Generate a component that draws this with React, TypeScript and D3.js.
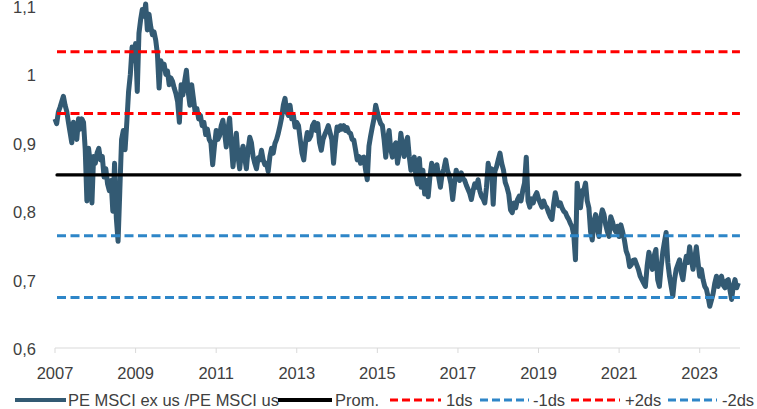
import React, { useEffect, useRef } from 'react'
import * as d3 from 'd3'

// PE MSCI ex US / PE MSCI US, valores quincenales
const pe2007 = [0.935, 0.928, 0.945, 0.952, 0.96, 0.968, 0.955, 0.946, 0.93, 0.915, 0.9, 0.93, 0.915, 0.905, 0.935, 0.92, 0.935, 0.93, 0.89, 0.815, 0.892, 0.87, 0.812, 0.88]
const pe2008 = [0.87, 0.885, 0.892, 0.875, 0.88, 0.85, 0.862, 0.84, 0.83, 0.845, 0.8, 0.87, 0.79, 0.756, 0.83, 0.905, 0.918, 0.89, 0.93, 0.975, 1.0, 1.04, 1.02]
const pe2009 = [1.045, 0.975, 1.06, 1.08, 1.095, 1.085, 1.103, 1.065, 1.088, 1.07, 1.058, 1.062, 1.05, 1.03, 0.98, 1.02, 1.01, 1.015, 1.0, 1.005, 0.985, 0.995, 0.99, 0.98]
const pe2010 = [0.972, 0.96, 0.93, 0.985, 0.97, 0.99, 1.006, 0.975, 0.955, 0.985, 0.965, 0.945, 0.95, 0.935, 0.94, 0.925, 0.93, 0.912, 0.92, 0.905, 0.9, 0.868, 0.895]
const pe2011 = [0.918, 0.905, 0.91, 0.925, 0.933, 0.915, 0.894, 0.92, 0.936, 0.9, 0.865, 0.89, 0.914, 0.88, 0.862, 0.885, 0.895, 0.878, 0.862, 0.89, 0.908, 0.9, 0.88, 0.87]
const pe2012 = [0.862, 0.878, 0.875, 0.889, 0.875, 0.868, 0.87, 0.858, 0.88, 0.892, 0.885, 0.899, 0.905, 0.914, 0.925, 0.937, 0.955, 0.965, 0.945, 0.94, 0.955, 0.935, 0.94, 0.923]
const pe2013 = [0.93, 0.925, 0.904, 0.885, 0.875, 0.9, 0.915, 0.905, 0.91, 0.925, 0.93, 0.918, 0.928, 0.9, 0.889, 0.905, 0.912, 0.918, 0.925, 0.915, 0.905, 0.87, 0.9]
const pe2014 = [0.923, 0.918, 0.925, 0.92, 0.925, 0.918, 0.922, 0.915, 0.914, 0.905, 0.904, 0.89, 0.875, 0.88, 0.87, 0.878, 0.879, 0.86, 0.846, 0.895, 0.91, 0.923, 0.935, 0.955]
const pe2015 = [0.945, 0.935, 0.928, 0.925, 0.905, 0.879, 0.905, 0.918, 0.89, 0.879, 0.895, 0.9, 0.87, 0.885, 0.914, 0.895, 0.88, 0.9, 0.908, 0.88, 0.86, 0.875, 0.879, 0.85]
const pe2016 = [0.84, 0.877, 0.835, 0.86, 0.825, 0.845, 0.821, 0.85, 0.87, 0.862, 0.855, 0.868, 0.85, 0.835, 0.855, 0.862, 0.875, 0.86, 0.852, 0.84, 0.817, 0.84, 0.86]
const pe2017 = [0.85, 0.845, 0.856, 0.848, 0.845, 0.838, 0.832, 0.826, 0.817, 0.83, 0.84, 0.835, 0.846, 0.83, 0.822, 0.818, 0.812, 0.835, 0.87, 0.855, 0.862, 0.81, 0.858, 0.865]
const pe2018 = [0.875, 0.885, 0.87, 0.86, 0.842, 0.835, 0.825, 0.802, 0.798, 0.812, 0.805, 0.817, 0.822, 0.815, 0.83, 0.841, 0.879, 0.815, 0.806, 0.818, 0.812, 0.822, 0.827]
const pe2019 = [0.818, 0.812, 0.806, 0.815, 0.808, 0.805, 0.798, 0.792, 0.788, 0.81, 0.827, 0.815, 0.808, 0.812, 0.805, 0.8, 0.798, 0.792, 0.788, 0.782, 0.777, 0.765, 0.729, 0.841]
const pe2020 = [0.82, 0.805, 0.83, 0.831, 0.841, 0.815, 0.805, 0.77, 0.758, 0.785, 0.795, 0.775, 0.763, 0.79, 0.802, 0.795, 0.78, 0.77, 0.763, 0.792, 0.785, 0.775, 0.77, 0.778]
const pe2021 = [0.763, 0.78, 0.77, 0.758, 0.742, 0.735, 0.719, 0.722, 0.728, 0.729, 0.722, 0.715, 0.705, 0.7, 0.695, 0.69, 0.72, 0.74, 0.725, 0.715, 0.735, 0.744, 0.7]
const pe2022 = [0.69, 0.718, 0.74, 0.755, 0.769, 0.725, 0.705, 0.69, 0.676, 0.7, 0.715, 0.722, 0.729, 0.71, 0.7, 0.72, 0.734, 0.725, 0.748, 0.73, 0.715, 0.73, 0.748, 0.725]
const pe2023 = [0.705, 0.715, 0.7, 0.69, 0.686, 0.675, 0.661, 0.67, 0.68, 0.695, 0.705, 0.69, 0.7, 0.705, 0.692, 0.688, 0.698, 0.7, 0.685, 0.671, 0.69, 0.7, 0.688, 0.695]

const years = [2007, 2008, 2009, 2010, 2011, 2012, 2013, 2014, 2015, 2016, 2017, 2018, 2019, 2020, 2021, 2022, 2023]
const yearSeries = [pe2007, pe2008, pe2009, pe2010, pe2011, pe2012, pe2013, pe2014, pe2015, pe2016, pe2017, pe2018, pe2019, pe2020, pe2021, pe2022, pe2023]

// promedio y bandas de desviación estándar
const levelNames = ['Prom.', '1ds', '-1ds', '+2ds', '-2ds']
const levelValues = [0.853, 0.943, 0.764, 1.033, 0.674]

const yTicks = [0.6, 0.7, 0.8, 0.9, 1, 1.1]
const xTicks = [2007, 2009, 2011, 2013, 2015, 2017, 2019, 2021, 2023]
const seriesName = 'PE MSCI ex us /PE MSCI us'

const FONT = '"Liberation Sans", Arial, sans-serif'
const FONT_SIZE = 16.5
const TEXT = '#404040'
const LINE_COLOR = '#335a73'
const levelStyles = [
  { color: '#000000', dash: null, width: 3.2 },
  { color: '#ff0000', dash: '9,4.5', width: 3 },
  { color: '#2e86c8', dash: '9,4.5', width: 3 },
  { color: '#ff0000', dash: '9,4.5', width: 3 },
  { color: '#2e86c8', dash: '9,4.5', width: 3 }
]

const App = () => {
  const ref = useRef<SVGSVGElement>(null)

  useEffect(() => {
    const width = 757
    const height = 409
    const svg = d3.select(ref.current)
    svg.selectAll('*').remove()
    svg.attr('width', width).attr('height', height)

    const points = yearSeries.flatMap((vals, j) =>
      vals.map((v, i) => ({ t: years[j] + i / vals.length, v }))
    )
    const tStart = years[0]
    const tEnd = years[years.length - 1] + 1

    const x = d3.scaleLinear().domain([tStart, tEnd]).range([55, 740])
    const y = d3.scaleLinear().domain([0.6, 1.1]).range([348, 6])

    // eje X
    const gx = svg.append('g')
    gx.append('line')
      .attr('x1', x(tStart))
      .attr('x2', x(tEnd))
      .attr('y1', y(0.6))
      .attr('y2', y(0.6))
      .attr('stroke', '#d9d9d9')
      .attr('stroke-width', 1)
    gx.selectAll('.tick')
      .data(xTicks)
      .enter()
      .append('line')
      .attr('x1', (d) => x(d))
      .attr('x2', (d) => x(d))
      .attr('y1', y(0.6))
      .attr('y2', y(0.6) + 5)
      .attr('stroke', '#d9d9d9')
    gx.selectAll('text')
      .data(xTicks)
      .enter()
      .append('text')
      .attr('x', (d) => x(d))
      .attr('y', 379)
      .attr('text-anchor', 'middle')
      .attr('font-family', FONT)
      .attr('font-size', FONT_SIZE)
      .attr('fill', TEXT)
      .text((d) => String(d))

    // eje Y (solo etiquetas)
    svg.append('g')
      .selectAll('text')
      .data(yTicks)
      .enter()
      .append('text')
      .attr('x', 36)
      .attr('y', (d) => y(d))
      .attr('dy', '0.42em')
      .attr('text-anchor', 'end')
      .attr('font-family', FONT)
      .attr('font-size', FONT_SIZE)
      .attr('fill', TEXT)
      .text((d) => String(d).replace('.', ','))

    // serie
    const line = d3
      .line<{ t: number; v: number }>()
      .x((d) => x(d.t))
      .y((d) => y(d.v))
      .curve(d3.curveLinear)
    svg.append('path')
      .datum(points)
      .attr('d', line)
      .attr('fill', 'none')
      .attr('stroke', LINE_COLOR)
      .attr('stroke-width', 5)
      .attr('stroke-linejoin', 'round')

    // niveles: promedio y +-1/2 ds
    const lastT = points[points.length - 1].t + 0.04
    levelValues.forEach((v, i) => {
      const s = levelStyles[i]
      svg.append('line')
        .attr('x1', x(tStart) + 2)
        .attr('x2', x(lastT))
        .attr('y1', y(v))
        .attr('y2', y(v))
        .attr('stroke', s.color)
        .attr('stroke-width', s.width)
        .attr('stroke-dasharray', s.dash)
        .attr('stroke-linecap', s.dash ? 'butt' : 'round')
    })

    // leyenda
    const legendY = 400
    const legendItems = [
      { name: seriesName, color: LINE_COLOR, dash: null, width: 4, x1: 15, x2: 66, tx: 68 },
      ...levelNames.map((name, i) => ({
        name,
        color: levelStyles[i].color,
        dash: levelStyles[i].dash ? '8,4' : null,
        width: levelStyles[i].dash ? 3 : 4,
        x1: [278, 390, 480, 571, 668][i],
        x2: [332, 441, 529, 620, 717][i],
        tx: [335, 446, 533, 625, 722][i]
      }))
    ]
    const lg = svg.append('g')
    legendItems.forEach((it) => {
      lg.append('line')
        .attr('x1', it.x1)
        .attr('x2', it.x2)
        .attr('y1', legendY)
        .attr('y2', legendY)
        .attr('stroke', it.color)
        .attr('stroke-width', it.width)
        .attr('stroke-dasharray', it.dash)
      lg.append('text')
        .attr('x', it.tx)
        .attr('y', legendY)
        .attr('dy', '0.36em')
        .attr('font-family', FONT)
        .attr('font-size', FONT_SIZE)
        .attr('fill', TEXT)
        .text(it.name)
    })
  }, [])

  return (
    <svg
      ref={ref}
      style={{ position: 'absolute', left: 0, top: 0, background: '#ffffff' }}
    />
  )
}

export default App
